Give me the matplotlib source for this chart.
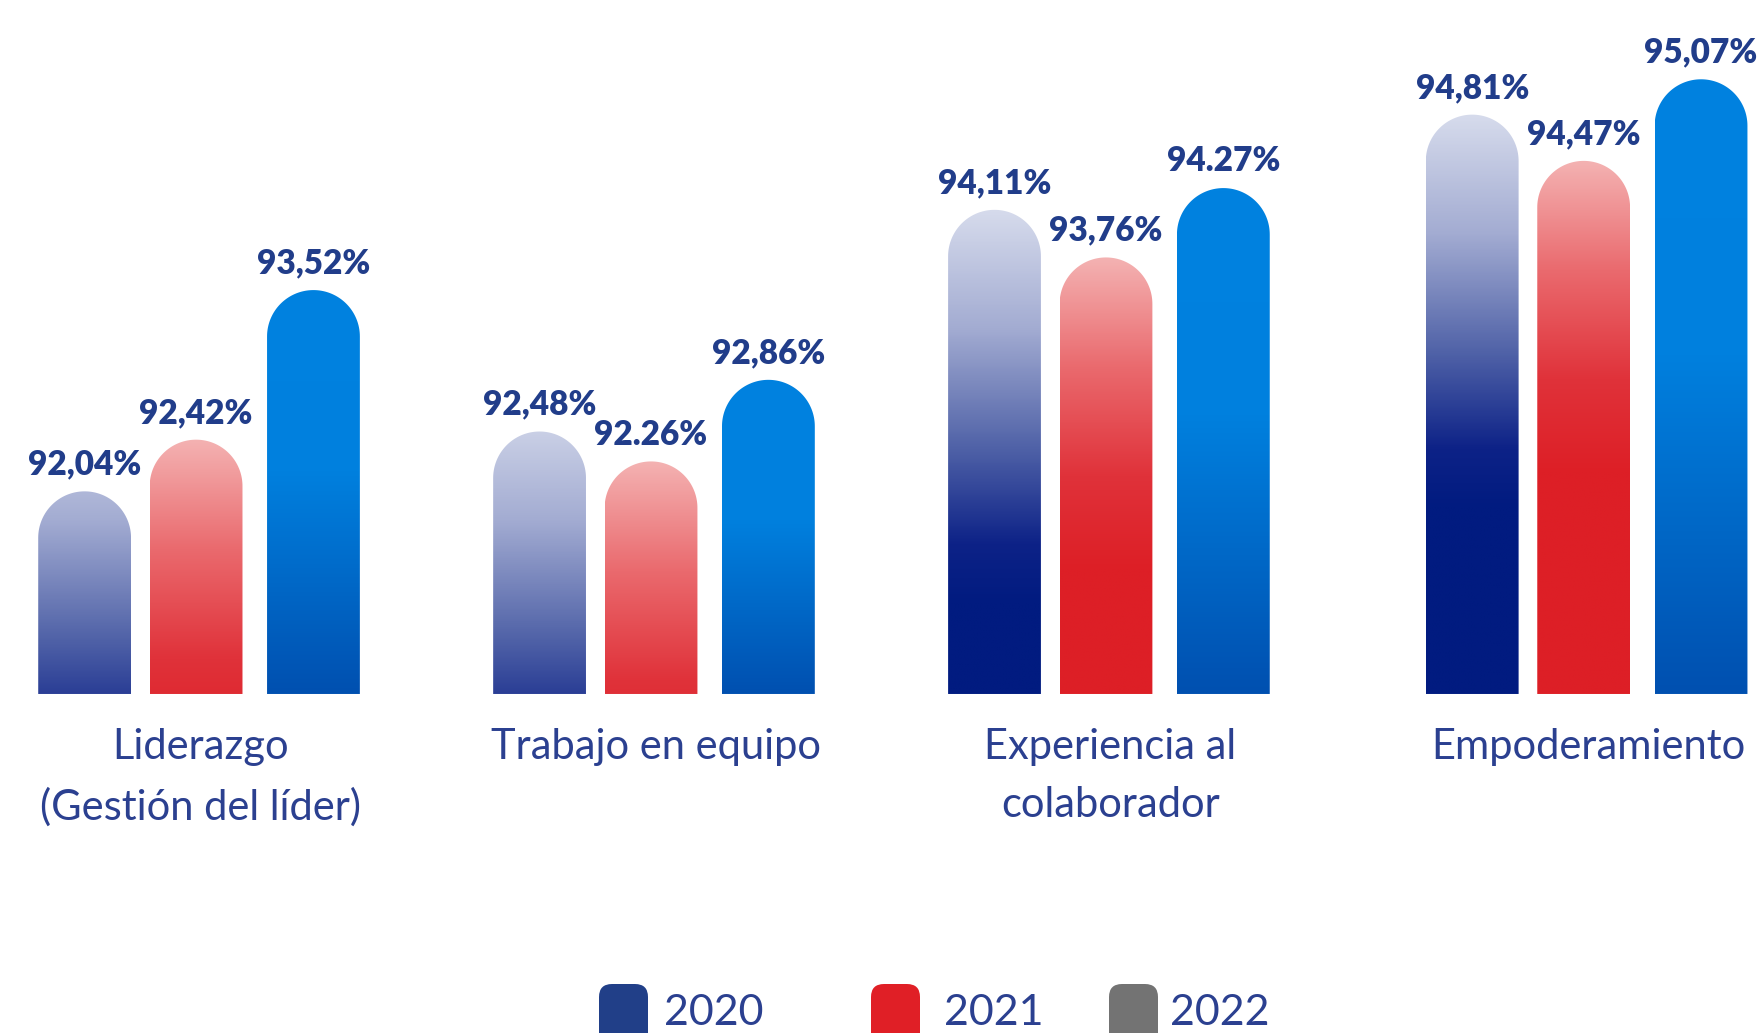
import numpy as np
import matplotlib
matplotlib.use("Agg")
import matplotlib.pyplot as plt
from matplotlib.patches import Polygon, FancyBboxPatch
from matplotlib.colors import LinearSegmentedColormap
from matplotlib.transforms import IdentityTransform

# Survey results by dimension and year
categories = ["Liderazgo\n(Gestión del líder)", "Trabajo en equipo",
              "Experiencia al\ncolaborador", "Empoderamiento"]
years = ["2020", "2021", "2022"]
vals_2020 = [92.04, 92.48, 94.11, 94.81]
vals_2021 = [92.42, 92.26, 93.76, 94.47]
vals_2022 = [93.52, 92.86, 94.27, 95.07]
labels_2020 = ["92,04%", "92,48%", "94,11%", "94,81%"]
labels_2021 = ["92,42%", "92.26%", "93,76%", "94,47%"]
labels_2022 = ["93,52%", "92,86%", "94.27%", "95,07%"]

plt.rcParams['font.family'] = ['Lato', 'DejaVu Sans']

W, H = 1757, 1033
fig = plt.figure(figsize=(W / 100, H / 100), dpi=100)
ax = fig.add_axes([0, 0, 1, 1])
ax.axis('off')

# axis layout
base = 90.55
ylo, yhi = 88.057, 95.653
xlo, xhi = -0.431, 3.431
group_x = np.array([0, 1, 2, 3.05])
offsets = [-0.245, 0.0, 0.258]
bar_w = 0.204

px_x = W / (xhi - xlo)
px_y = H / (yhi - ylo)
rx = bar_w / 2
ry = rx * px_x / px_y

# gradients run from the top of each bar downwards
cmap_2020 = LinearSegmentedColormap.from_list("c2020", [
    (0, "#d6dbec"), (0.3, "#a3acd2"), (0.6, "#5163a8"), (0.85, "#0d2287"), (1, "#011b80")])
cmap_2021 = LinearSegmentedColormap.from_list("c2021", [
    (0, "#f4b2b2"), (0.35, "#ea6a6e"), (0.7, "#e0323a"), (1, "#dd1f26")])
cmap_2022 = LinearSegmentedColormap.from_list("c2022", [
    (0, "#0082e0"), (0.45, "#0080de"), (1, "#0050b0")])

# (values, labels, colormap, gradient length, gradient start level)
series = [
    (vals_2020, labels_2020, cmap_2020, 2.9, 92.7),
    (vals_2021, labels_2021, cmap_2021, 2.3, 0),
    (vals_2022, labels_2022, cmap_2022, None, 0),
]

label_color = "#213d8a"
theta = np.linspace(0, np.pi, 80)

for k, (vals, labels, cmap, grad_len, grad_top) in enumerate(series):
    for gx, v, lab in zip(group_x, vals, labels):
        cx = gx + offsets[k]
        cap_y = v - ry
        pts = [(cx - rx, base), (cx + rx, base)]
        pts += [(cx + rx * np.cos(t), cap_y + ry * np.sin(t)) for t in theta]
        poly = Polygon(pts, closed=True, facecolor='none', edgecolor='none')
        ax.add_patch(poly)

        ys = np.linspace(v, base, 300)
        if grad_len is None:
            u = (v - ys) / (v - base)
        else:
            u = np.clip((max(v, grad_top) - ys) / grad_len, 0, 1)
        img = cmap(u)[:, None, :]
        im = ax.imshow(img, extent=[cx - rx, cx + rx, base, v], aspect='auto',
                       interpolation='bilinear', zorder=2)
        im.set_clip_path(poly)

        ax.annotate(lab, (cx, v), xytext=(0, 12), textcoords='offset points',
                    ha='center', va='baseline', fontsize=24, fontweight='heavy',
                    color=label_color, zorder=3)

# category names under each group
cat_y = base - (728 - 694) / px_y
for gx, cat in zip(group_x, categories):
    ax.text(gx + 0.01, cat_y, cat, ha='center', va='top', fontsize=30,
            fontweight='normal', color="#2b4090", linespacing=1.65)

ax.set_xlim(xlo, xhi)
ax.set_ylim(ylo, yhi)

# legend drawn in pixel space along the bottom edge
legend_colors = ["#213f88", "#e01f26", "#737373"]
box_left = [599, 871, 1109]
text_left = [664, 944, 1170]
for yr, col, bx, tx in zip(years, legend_colors, box_left, text_left):
    box = FancyBboxPatch((bx, -14), 49, 63, boxstyle="round,pad=0,rounding_size=13",
                         facecolor=col, edgecolor='none', transform=IdentityTransform())
    fig.patches.append(box)
    fig.text(tx, 8, yr, transform=IdentityTransform(), fontsize=31,
             fontweight='normal', color="#2b4090", va='baseline', ha='left')

fig.savefig("out.png", dpi=100, facecolor='white')
